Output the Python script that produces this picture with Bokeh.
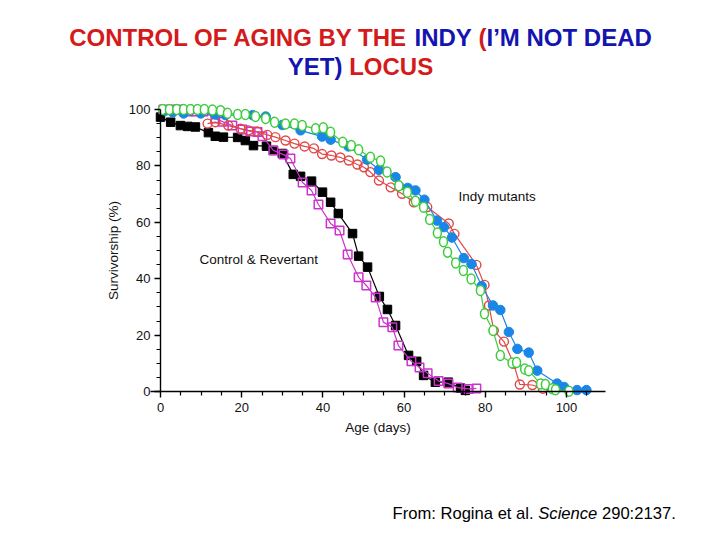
from bokeh.plotting import figure
from bokeh.models import Range1d, FixedTicker, Label
from bokeh.embed import file_html
from bokeh.resources import INLINE

# ---------------- data ----------------
control_day = [0, 2.5, 4.9, 6.7, 8.6, 11.8, 13.5, 15.5, 19.0, 20.9, 22.9, 26.1, 27.8, 30.0, 32.7,
               34.5, 37.2, 39.9, 41.9, 43.8, 47.3, 48.8, 51.0, 53.9, 55.9, 57.9, 61.1, 63.1, 64.8,
               67.7, 70.9, 73.9, 75.1]
control_pct = [97.3, 95.5, 94.3, 94.0, 93.8, 91.8, 90.5, 90.2, 90.1, 89.0, 87.2, 87.0, 85.5, 84.4, 77.0,
               76.3, 74.6, 70.7, 67.1, 63.1, 56.0, 48.0, 44.1, 33.7, 29.1, 23.4, 12.8, 10.7, 5.7,
               3.3, 3.3, 1.2, 0.4]

revertant_day = [0.7, 3.0, 4.4, 6.9, 8.6, 10.6, 13.5, 15.3, 17.7, 20.2, 22.2, 23.9, 25.1, 27.8, 30.3,
                 32.0, 35.0, 37.2, 38.9, 41.9, 44.1, 46.1, 48.8, 50.7, 53.0, 54.9, 57.1, 58.6, 61.8,
                 63.8, 65.8, 68.5, 70.9, 73.2, 75.9, 77.8]
revertant_pct = [100, 100, 100, 99.3, 99.3, 99.3, 96.8, 95.7, 94.3, 92.9, 92.2, 92.0, 90.5, 85.5, 84.0,
                 82.6, 74.1, 71.3, 66.3, 59.6, 57.1, 48.6, 40.5, 37.6, 33.3, 24.6, 22.8, 16.3, 10.7,
                 8.5, 6.5, 3.7, 2.8, 1.4, 0.9, 1.1]

indy_red_day = [11.6, 13.5, 16.7, 19.7, 21.7, 23.8, 26.3, 28.3, 30.8, 33.0, 35.5, 37.8, 39.8, 42.1,
                44.3, 46.4, 48.5, 50.1, 51.7, 53.8, 56.7, 59.5, 62.4, 65.7, 71.0, 72.4, 77.8, 79.8,
                80.9, 82.1, 84.6, 87.0, 88.5, 91.6, 94.2]
indy_red_pct = [95.0, 95.5, 94.3, 93.2, 92.6, 92.2, 91.0, 90.2, 89.0, 87.9, 86.9, 86.2, 84.2, 83.7,
                83.0, 81.9, 80.5, 79.5, 77.8, 74.8, 72.4, 70.1, 67.1, 65.4, 59.6, 55.9, 44.9, 37.8,
                30.5, 21.6, 17.7, 9.8, 2.5, 2.3, 1.0]

indy_blue_day = [1.2, 3.0, 5.7, 9.9, 13.5, 16.0, 22.7, 25.9, 30.0, 34.5, 39.8, 41.9, 46.3, 50.9, 53.8,
                 57.9, 60.9, 62.8, 65.0, 68.1, 69.8, 71.8, 74.7, 76.6, 79.1, 81.9, 83.7, 85.8, 87.9,
                 90.7, 92.8, 97.7, 99.4, 102.6, 104.9]
indy_blue_pct = [99.6, 99.0, 98.6, 98.6, 98.2, 98.0, 98.0, 97.5, 94.5, 92.6, 90.4, 89.3, 86.9, 82.2, 78.6,
                 76.0, 72.2, 71.3, 68.0, 60.6, 58.3, 54.6, 47.3, 45.2, 37.4, 30.5, 28.9, 21.1, 15.1,
                 13.8, 7.4, 2.8, 1.6, 0.5, 0.5]

indy_green_day = [0.5, 2.2, 4.0, 5.7, 7.4, 9.1, 10.8, 12.8, 14.8, 16.5, 19.0, 20.9, 23.4, 25.9, 28.1,
                  30.8, 33.0, 34.9, 38.2, 40.1, 41.9, 44.9, 47.0, 48.8, 51.7, 54.2, 55.8, 58.7, 60.8,
                  62.8, 64.8, 66.3, 68.2, 69.7, 70.7, 72.7, 74.6, 76.5, 78.8, 79.8, 81.9, 83.7, 86.6,
                  87.7, 89.7, 90.7, 93.6, 94.8, 96.5, 97.3, 100.6]
indy_green_pct = [100, 100, 100, 100, 100, 100, 100, 99.8, 99.6, 98.7, 98.2, 98.2, 97.5, 96.8, 95.5,
                  94.9, 94.9, 94.3, 93.2, 93.5, 91.9, 88.4, 87.2, 85.7, 83.1, 81.7, 77.8, 73.0, 70.7,
                  67.5, 65.3, 61.0, 56.2, 53.1, 49.4, 45.6, 42.9, 39.9, 35.8, 27.6, 21.6, 12.8, 10.1,
                  10.3, 8.0, 7.4, 2.7, 2.5, 1.0, 0.6, 0.1]

x_major_ticks = [0, 20, 40, 60, 80, 100]
y_major_ticks = [0, 20, 40, 60, 80, 100]
x_minor_ticks = [5, 10, 15, 25, 30, 35, 45, 50, 55, 65, 70, 75, 85, 90, 95, 105]
y_minor_ticks = [5, 10, 15, 25, 30, 35, 45, 50, 55, 65, 70, 75, 85, 90, 95]

title_line1 = [("CONTROL OF AGING BY THE ", "red"), ("INDY ", "blue"), ("(", "red"),
               ("I\u2019M NOT DEAD", "blue")]
title_line2 = [("YET)", "blue"), (" LOCUS", "red")]
source_parts = [("From: Rogina et al. ", "normal"), ("Science", "italic"), (" 290:2137.", "normal")]

# ---------------- figure ----------------
W, H = 720, 540
# placement of the chart on the page: pixel of day 0 / 0 %, and pixels per unit
OX, OY = 160.0, 391.0
SX, SY = 4.06, 2.82
X0, X1 = -OX / SX, (W - OX) / SX
Y0, Y1 = -(H - OY) / SY, OY / SY

p = figure(width=W, height=H, output_backend="svg", toolbar_location=None,
           x_range=Range1d(X0, X1), y_range=Range1d(Y0, Y1), min_border=0,
           min_border_left=0, min_border_right=0, min_border_top=0, min_border_bottom=0)
p.outline_line_color = None
p.grid.visible = False
p.background_fill_color = "white"
p.border_fill_color = "white"


def cx(px):
    return (px - OX) / SX


def cy(py):
    return (OY - py) / SY


FONT = "Liberation Sans"

xa = p.xaxis[0]
xa.fixed_location = 0
xa.bounds = (-2.5, 109.6)
xa.ticker = FixedTicker(ticks=x_major_ticks, minor_ticks=x_minor_ticks)
xa.axis_label = "Age (days)"
ya = p.yaxis[0]
ya.fixed_location = 0
ya.bounds = (0, 100)
ya.ticker = FixedTicker(ticks=y_major_ticks, minor_ticks=y_minor_ticks)
ya.axis_label = "Survivorship (%)"
for ax in (xa, ya):
    ax.axis_line_color = "black"
    ax.axis_line_width = 1.4
    ax.major_tick_line_color = "black"
    ax.minor_tick_line_color = "black"
    ax.major_tick_line_width = 1.4
    ax.minor_tick_line_width = 1.2
    ax.major_tick_in = 0
    ax.major_tick_out = 6
    ax.minor_tick_in = 0
    ax.minor_tick_out = 4
    ax.major_label_text_font = FONT
    ax.major_label_text_font_size = "13px"
    ax.major_label_text_color = "#111111"
    ax.axis_label_text_font = FONT
    ax.axis_label_text_font_size = "13.5px"
    ax.axis_label_text_font_style = "normal"
    ax.axis_label_text_color = "#111111"
xa.major_label_standoff = 5
xa.axis_label_standoff = 5
ya.major_label_standoff = 4
ya.axis_label_standoff = 5

BLACK = "#000000"
MAGENTA = "#cc33cc"
RED = "#e04848"
BLUE = "#1a86e8"
GREEN = "#3ccc3c"

# control (black filled squares)
p.line(control_day, control_pct, line_color=BLACK, line_width=1.2)
p.scatter(control_day, control_pct, marker="square", size=8.5, fill_color=BLACK, line_color=BLACK)
# revertant (magenta open squares)
p.line(revertant_day, revertant_pct, line_color=MAGENTA, line_width=1.2)
p.scatter(revertant_day, revertant_pct, marker="square", size=8.5, fill_color=None,
          line_color=MAGENTA, line_width=1.5)
# Indy (red open circles)
p.line(indy_red_day, indy_red_pct, line_color=RED, line_width=1.2)
p.scatter(indy_red_day, indy_red_pct, marker="circle", size=9, fill_color=None,
          line_color=RED, line_width=1.4)
# Indy (blue filled circles)
p.line(indy_blue_day, indy_blue_pct, line_color=BLUE, line_width=1.2)
p.scatter(indy_blue_day, indy_blue_pct, marker="circle", size=9.5, fill_color=BLUE, line_color=BLUE)
# Indy (green open circles)
p.line(indy_green_day, indy_green_pct, line_color=GREEN, line_width=1.2)
p.ellipse(indy_green_day, indy_green_pct, width=8, height=10, width_units="screen",
          height_units="screen", fill_color="white", line_color=GREEN, line_width=1.5)

# in-chart labels
p.add_layout(Label(x=73.4, y=69.1, text="Indy mutants", text_font=FONT, text_font_size="13.5px",
                   text_color="#111111", text_align="left", text_baseline="middle"))
p.add_layout(Label(x=9.6, y=46.8, text="Control & Revertant", text_font=FONT,
                   text_font_size="13.5px", text_color="#111111", text_align="left",
                   text_baseline="middle"))

# ---------------- title (multi coloured) ----------------
BOLD_W = {" ": 278, "(": 333, ")": 333, "\u2019": 278, "A": 722, "B": 722, "C": 722, "D": 722,
          "E": 667, "F": 611, "G": 778, "H": 722, "I": 278, "L": 611, "M": 833, "N": 722,
          "O": 778, "R": 722, "S": 667, "T": 611, "U": 722, "Y": 667}
REG_W = {" ": 278, ":": 278, ".": 278, "F": 611, "R": 722, "S": 667, "a": 556, "c": 500,
         "e": 556, "g": 556, "i": 222, "l": 222, "m": 833, "n": 556, "o": 556, "r": 333,
         "t": 278, "0": 556, "1": 556, "2": 556, "3": 556, "7": 556, "9": 556}
COLORS = {"red": "#d41a1a", "blue": "#1414b0"}


def width(s, table, size):
    return sum(table.get(c, 556) for c in s) * size / 1000.0


def put(s, x, py, table, size, style, color):
    lead = len(s) - len(s.lstrip(" "))
    p.add_layout(Label(x=cx(x + width(s[:lead], table, size)), y=cy(py), text=s.strip(" "),
                       text_font=FONT, text_font_size=f"{size}px", text_font_style=style,
                       text_color=color, text_align="left", text_baseline="middle"))
    return x + width(s, table, size)


TSIZE = 24
for parts, py in ((title_line1, 37), (title_line2, 66)):
    total = sum(width(s, BOLD_W, TSIZE) for s, _ in parts)
    x = 360 - total / 2
    for s, c in parts:
        x = put(s, x, py, BOLD_W, TSIZE, "bold", COLORS[c])

SSIZE = 16.6
x = 392
for s, style in source_parts:
    x = put(s, x, 513, REG_W, SSIZE, style, "black")

open("out.html", "w").write(file_html(p, INLINE))
